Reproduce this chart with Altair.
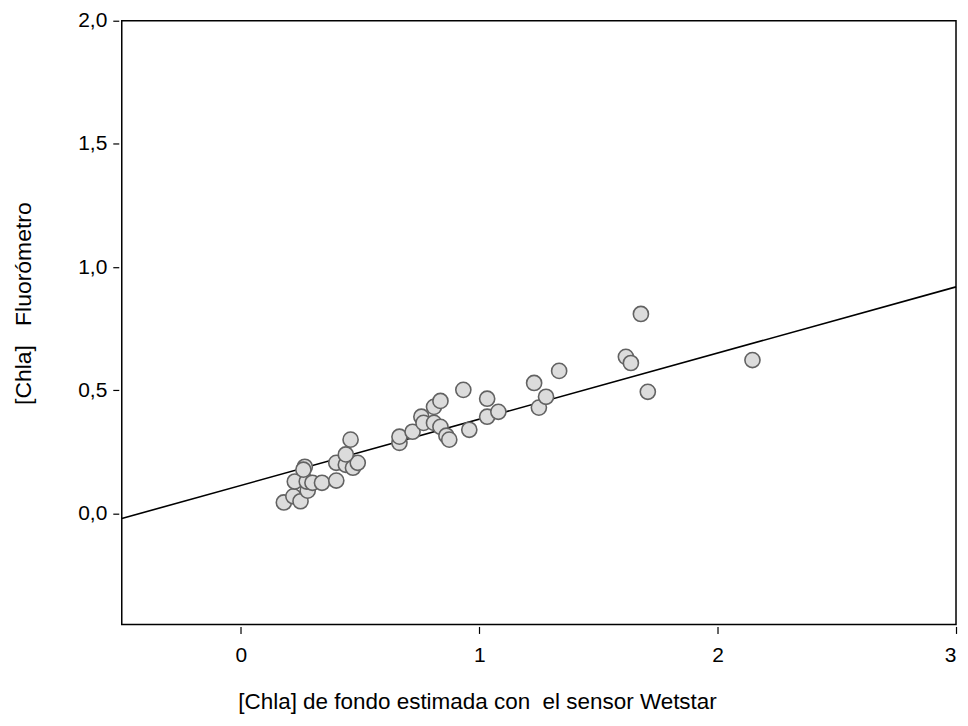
import altair as alt
import pandas as pd

# scatter points
x_vals = [0.18, 0.22, 0.25, 0.28, 0.226, 0.276, 0.30, 0.34, 0.40, 0.268, 0.262,
          0.40, 0.44, 0.47, 0.49, 0.44, 0.46,
          0.665, 0.665, 0.72, 0.757, 0.766, 0.81, 0.81, 0.837, 0.837, 0.862, 0.874,
          0.933, 0.958, 1.033, 1.033, 1.08, 1.23, 1.25, 1.28, 1.335,
          1.615, 1.636, 1.678, 1.707, 2.146]
y_vals = [0.045, 0.07, 0.05, 0.093, 0.13, 0.13, 0.125, 0.125, 0.134, 0.19, 0.178,
          0.206, 0.198, 0.186, 0.206, 0.24, 0.30,
          0.287, 0.312, 0.332, 0.393, 0.368, 0.368, 0.433, 0.457, 0.352, 0.316, 0.30,
          0.502, 0.34, 0.466, 0.393, 0.413, 0.53, 0.43, 0.474, 0.579,
          0.636, 0.611, 0.81, 0.494, 0.623]

# regression line end points
line_x = [-0.5, 3.0]
line_y = [-0.02, 0.92]

x_ticks = [0, 1, 2, 3]
y_ticks = [0.0, 0.5, 1.0, 1.5, 2.0]

pts = pd.DataFrame({"x": x_vals, "y": y_vals})
ln = pd.DataFrame({"x": line_x, "y": line_y})

FONT = "Liberation Sans"

xscale = alt.Scale(domain=[-0.5, 3.0], nice=False, zero=False)
yscale = alt.Scale(domain=[-0.45, 2.0], nice=False, zero=False)

xaxis = alt.Axis(
    values=x_ticks, format="d", domain=False, grid=False,
    offset=2, tickSize=7, tickColor="black", tickWidth=1.2,
    labelFont=FONT, labelFontSize=21, labelColor="black", labelPadding=11,
    title="[Chla] de fondo estimada con\u00a0 el sensor Wetstar",
    titleFont=FONT, titleFontSize=22.5, titleFontWeight="normal", titleColor="black",
    titleX=356, titleY=75, titleBaseline="middle", titleAnchor="middle",
)
yaxis = alt.Axis(
    values=y_ticks, domain=False, grid=False,
    labelExpr="replace(format(datum.value, '.1f'), '.', ',')",
    offset=3, tickSize=6, tickColor="black", tickWidth=1.2,
    labelFont=FONT, labelFontSize=21, labelColor="black", labelPadding=6,
    title="[Chla]\u00a0\u00a0 Fluorómetro",
    titleFont=FONT, titleFontSize=23, titleFontWeight="normal", titleColor="black",
    titleX=-95, titleY=283, titleBaseline="middle", titleAnchor="middle", titleAngle=-90,
)

line = alt.Chart(ln).mark_line(color="black", strokeWidth=1.6).encode(
    x=alt.X("x:Q", scale=xscale, axis=xaxis),
    y=alt.Y("y:Q", scale=yscale, axis=yaxis),
)

points = alt.Chart(pts).mark_point(
    shape="circle", filled=True, size=230, fill="#dcdcdc", opacity=1,
    stroke="#626262", strokeWidth=1.6,
).encode(
    x=alt.X("x:Q", scale=xscale),
    y=alt.Y("y:Q", scale=yscale),
)

chart = alt.layer(line, points).properties(
    width=836, height=605,
    background="white",
    autosize=alt.AutoSizeParams(type="none"),
    padding={"left": 114, "top": 12, "right": 4, "bottom": 100},
).configure_view(
    stroke="black", strokeWidth=1.5
)

chart.save("out.html", embed_options={"renderer": "svg", "actions": False})
